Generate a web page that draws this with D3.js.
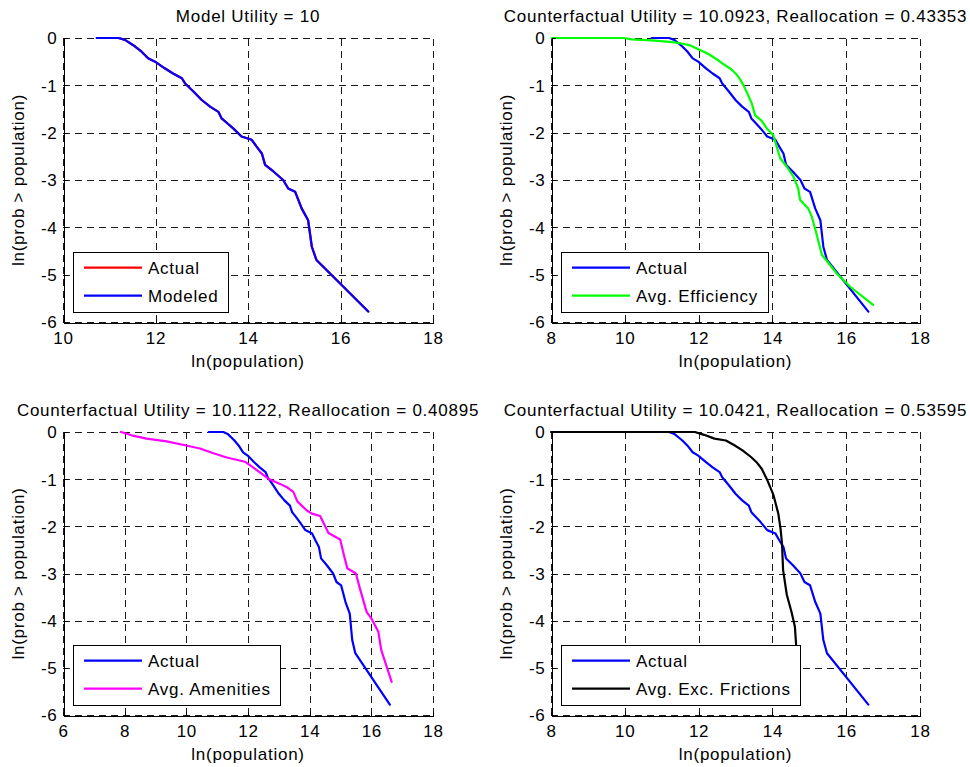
<!DOCTYPE html>
<html><head><meta charset="utf-8">
<script src="https://cdn.jsdelivr.net/npm/d3@7"></script>
<style>
body{margin:0;background:#fff}
text{font-family:"Liberation Sans",Arial,Helvetica,sans-serif;font-size:17px;letter-spacing:0.75px;fill:#000}
</style>
</head><body>
<svg id="chart" width="970" height="767"></svg>
<script>
// ---------- data (ln(population), ln(prob > population)) ----------
const actual = [[10.73,0],[11.2,0],[11.34,-0.04],[11.56,-0.18],[11.70,-0.29],[11.84,-0.43],[11.99,-0.5],[12.2,-0.64],[12.38,-0.75],[12.57,-0.85],[12.64,-0.96],[12.82,-1.13],[13.0,-1.31],[13.18,-1.45],[13.36,-1.56],[13.43,-1.70],[13.54,-1.79],[13.68,-1.91],[13.86,-2.08],[14.08,-2.15],[14.19,-2.30],[14.30,-2.44],[14.37,-2.68],[14.55,-2.82],[14.76,-3.0],[14.87,-3.18],[15.02,-3.25],[15.16,-3.60],[15.30,-3.85],[15.38,-4.41],[15.48,-4.69],[16.60,-5.78]];
const modeled = [[10.73,0],[11.2,0],[11.34,-0.04],[11.56,-0.18],[11.70,-0.29],[11.84,-0.43],[11.99,-0.5],[12.2,-0.64],[12.38,-0.75],[12.57,-0.85],[12.64,-0.96],[12.82,-1.13],[13.0,-1.31],[13.18,-1.45],[13.36,-1.56],[13.43,-1.70],[13.54,-1.79],[13.68,-1.91],[13.86,-2.08],[14.08,-2.15],[14.19,-2.30],[14.30,-2.44],[14.37,-2.68],[14.55,-2.82],[14.76,-3.0],[14.87,-3.18],[15.02,-3.25],[15.16,-3.60],[15.30,-3.85],[15.38,-4.41],[15.48,-4.69],[16.60,-5.78]];
const avgEfficiency = [[8.02,0],[9.96,0],[10.19,-0.03],[10.73,-0.05],[11.22,-0.08],[11.5,-0.11],[11.75,-0.15],[11.95,-0.22],[12.17,-0.3],[12.31,-0.36],[12.53,-0.47],[12.67,-0.55],[12.9,-0.67],[13.03,-0.77],[13.12,-0.87],[13.21,-0.99],[13.35,-1.22],[13.44,-1.38],[13.53,-1.63],[13.71,-1.75],[13.85,-1.91],[14.02,-2.05],[14.12,-2.30],[14.21,-2.54],[14.39,-2.72],[14.57,-2.93],[14.70,-3.18],[14.75,-3.42],[14.97,-3.60],[15.07,-3.78],[15.20,-4.15],[15.34,-4.58],[15.74,-4.97],[16.1,-5.25],[16.73,-5.64]];
const avgAmenities = [[7.88,0],[8.23,-0.07],[8.71,-0.14],[9.36,-0.2],[9.96,-0.28],[10.44,-0.35],[10.88,-0.45],[11.31,-0.54],[11.9,-0.63],[12.23,-0.78],[12.66,-0.99],[13.04,-1.1],[13.26,-1.17],[13.47,-1.27],[13.6,-1.47],[13.90,-1.66],[14.07,-1.73],[14.34,-1.78],[14.61,-2.14],[14.99,-2.28],[15.1,-2.58],[15.22,-2.89],[15.5,-3.0],[15.63,-3.32],[15.85,-3.82],[16.0,-3.95],[16.23,-4.24],[16.32,-4.62],[16.66,-5.3]];
const avgExcFrictions = [[8.0,0],[11.9,0],[12.15,-0.06],[12.43,-0.14],[12.74,-0.18],[12.97,-0.28],[13.19,-0.39],[13.42,-0.53],[13.57,-0.64],[13.71,-0.78],[13.85,-1.0],[14.03,-1.34],[14.16,-1.73],[14.22,-2.05],[14.26,-2.36],[14.29,-2.93],[14.39,-3.45],[14.52,-3.82],[14.61,-4.13],[14.65,-4.6],[14.67,-4.9]];

const titles = ["Model Utility = 10",
  "Counterfactual Utility = 10.0923, Reallocation = 0.43353",
  "Counterfactual Utility = 10.1122, Reallocation = 0.40895",
  "Counterfactual Utility = 10.0421, Reallocation = 0.53595"];
const yTicks = [0,-1,-2,-3,-4,-5,-6];
const xTicksA = [10,12,14,16,18];
const xTicksB = [8,10,12,14,16,18];
const xTicksC = [6,8,10,12,14,16,18];
const xLabel = "ln(population)";
const yLabel = "ln(prob > population)";

// ---------- layout ----------
const svg = d3.select("#chart");
const panels = [
  {left:63, top:38, w:370, h:284, xd:[10,18], xt:xTicksA, title:titles[0],
   series:[{d:actual,c:"#ff0000",l:"Actual"},{d:modeled,c:"#0000ff",l:"Modeled"}]},
  {left:551, top:38, w:369, h:284, xd:[8,18], xt:xTicksB, title:titles[1],
   series:[{d:actual,c:"#0000ff",l:"Actual"},{d:avgEfficiency,c:"#00ff00",l:"Avg. Efficiency"}]},
  {left:63, top:432, w:370, h:283, xd:[6,18], xt:xTicksC, title:titles[2],
   series:[{d:actual,c:"#0000ff",l:"Actual"},{d:avgAmenities,c:"#ff00ff",l:"Avg. Amenities"}]},
  {left:551, top:432, w:369, h:283, xd:[8,18], xt:xTicksB, title:titles[3],
   series:[{d:actual,c:"#0000ff",l:"Actual"},{d:avgExcFrictions,c:"#000000",l:"Avg. Exc. Frictions"}]}
];
const fmt = d => String(d);

panels.forEach(p => {
  const g = svg.append("g");
  const x = d3.scaleLinear().domain(p.xd).range([p.left, p.left + p.w]);
  const y = d3.scaleLinear().domain([-6, 0]).range([p.top + p.h, p.top]);

  // grid
  const grid = g.append("g").attr("stroke","#1a1a1a").attr("stroke-width",1)
    .attr("stroke-dasharray","7,5").attr("shape-rendering","crispEdges");
  grid.selectAll(".gx").data(p.xt).join("line")
    .attr("x1", d => Math.round(x(d))+0.5).attr("x2", d => Math.round(x(d))+0.5)
    .attr("y1", p.top + p.h).attr("y2", p.top);
  grid.selectAll(".gy").data(yTicks).join("line")
    .attr("y1", d => Math.round(y(d))+0.5).attr("y2", d => Math.round(y(d))+0.5)
    .attr("x1", p.left).attr("x2", p.left + p.w);

  // series
  const line = d3.line().x(d => x(d[0])).y(d => y(d[1]));
  p.series.forEach(s => {
    g.append("path").attr("d", line(s.d)).attr("fill","none")
      .attr("stroke", s.c).attr("stroke-width", 2.2)
      .attr("stroke-linejoin","round").attr("stroke-linecap","round");
  });

  // axes
  const ax = g.append("g").attr("transform", `translate(0,${Math.round(y(-6))+0.5})`)
    .call(d3.axisBottom(x).tickValues(p.xt).tickSizeInner(-4).tickSizeOuter(0).tickPadding(9.5).tickFormat(fmt));
  const ay = g.append("g").attr("transform", `translate(${Math.round(x(p.xd[0]))+0.5},0)`)
    .call(d3.axisLeft(y).tickValues(yTicks).tickSizeInner(-4).tickSizeOuter(0).tickPadding(6).tickFormat(fmt));
  [ax, ay].forEach(a => {
    a.selectAll("path,line").attr("stroke","#000").attr("stroke-width",1).attr("shape-rendering","crispEdges");
    a.selectAll("text").attr("fill","#000");
    a.attr("font-family", null).attr("font-size", null);
  });
  ay.selectAll("text").attr("dy","0.35em");

  // title & labels
  const cx = p.left + p.w / 2;
  g.append("text").attr("x", cx).attr("y", p.top - 16).attr("text-anchor","middle").text(p.title);
  g.append("text").attr("x", cx).attr("y", p.top + p.h + 44.5).attr("text-anchor","middle").text(xLabel);
  g.append("text").attr("transform", `translate(${p.left - 39},${p.top + p.h/2}) rotate(-90)`)
    .attr("text-anchor","middle").text(yLabel);

  // legend
  const lg = g.append("g").attr("transform", `translate(${p.left + 9.5},${p.top + p.h - 9.5 - 60.5})`);
  const rect = lg.append("rect").attr("x",0.5).attr("y",0.5).attr("height",60)
    .attr("fill","#fff").attr("stroke","#000").attr("stroke-width",1).attr("shape-rendering","crispEdges");
  let maxEnd = 0;
  p.series.forEach((s, i) => {
    const ly = 15.7 + i * 28;
    lg.append("line").attr("x1",11.5).attr("x2",69.5).attr("y1",ly).attr("y2",ly)
      .attr("stroke", s.c).attr("stroke-width", 2.2);
    const t = lg.append("text").attr("x",75.5).attr("y",ly).attr("dy","0.35em").text(s.l);
    maxEnd = Math.max(maxEnd, 75.5 + t.node().getComputedTextLength());
  });
  rect.attr("width", Math.round(maxEnd + 9));
});
</script>
</body></html>
